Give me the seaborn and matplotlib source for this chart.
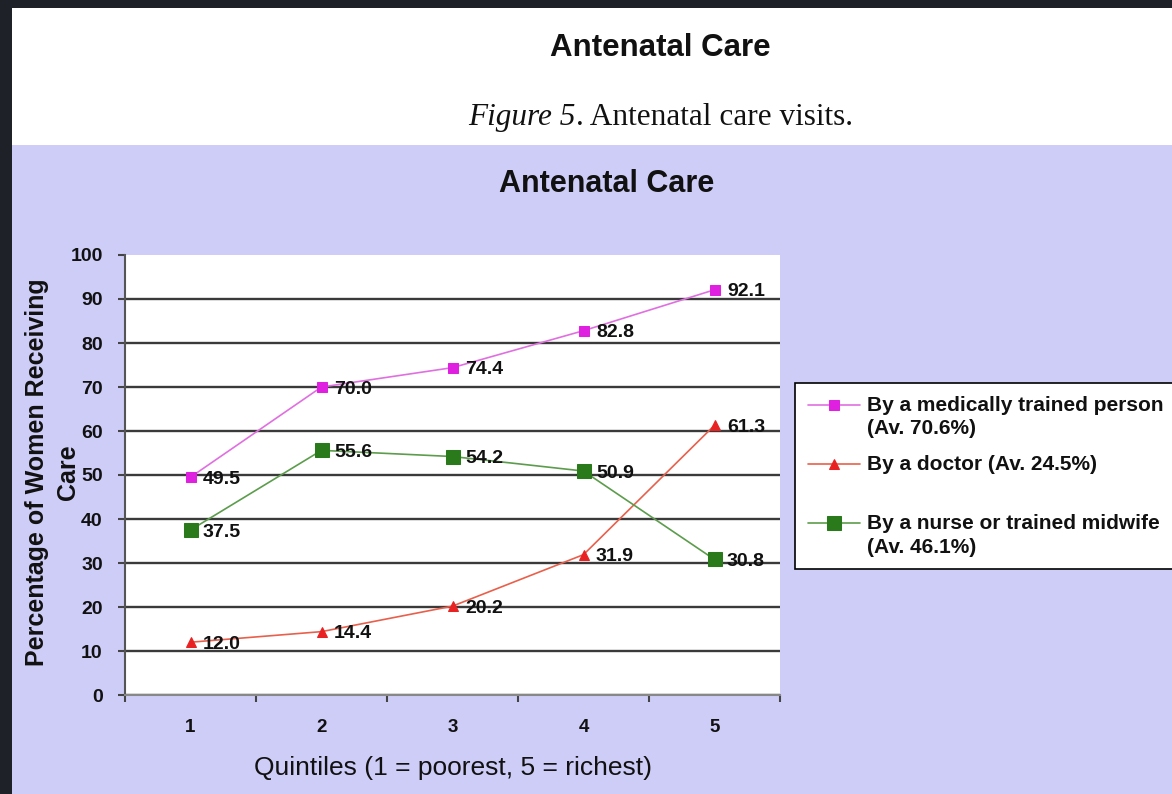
import matplotlib
matplotlib.use("Agg")
import matplotlib.pyplot as plt
import seaborn as sns
import numpy as np
from matplotlib.patches import Rectangle
from matplotlib.legend_handler import HandlerLine2D

# ---------------- data ----------------
quintiles = [1, 2, 3, 4, 5]
quintile_labels = ["1", "2", "3", "4", "5"]
medical = [49.5, 70.0, 74.4, 82.8, 92.1]
doctor = [12.0, 14.4, 20.2, 31.9, 61.3]
nurse = [37.5, 55.6, 54.2, 50.9, 30.8]
series_labels = [
    "By a medically trained person\n(Av. 70.6%)",
    "By a doctor (Av. 24.5%)\n ",
    "By a nurse or trained midwife\n(Av. 46.1%)",
]
y_ticks = list(range(0, 101, 10))

page_title = "Antenatal Care"
caption_italic = "Figure 5"
caption_rest = ". Antenatal care visits."
chart_title = "Antenatal Care"
x_label = "Quintiles (1 = poorest, 5 = richest)"
y_label = "Percentage of Women Receiving\nCare"

# ---------------- style ----------------
sns.set_theme(style="white")
plt.rcParams["font.family"] = ["Liberation Sans", "DejaVu Sans"]

W, H = 1172, 794
fig = plt.figure(figsize=(W / 100, H / 100), dpi=100)
LAV = "#cdcdf8"
fig.patch.set_facecolor(LAV)


def fx(px):
    return px / W


def fy(py):
    return 1 - py / H


# white page header + dark screen borders
fig.add_artist(Rectangle((fx(12), fy(145)), 1, fy(8) - fy(145),
                         transform=fig.transFigure, facecolor="white",
                         edgecolor="none", zorder=0))
fig.add_artist(Rectangle((0, fy(8)), 1, 1 - fy(8), transform=fig.transFigure,
                         facecolor="#1f2129", edgecolor="none", zorder=0))
fig.add_artist(Rectangle((0, 0), fx(12), 1, transform=fig.transFigure,
                         facecolor="#1f2129", edgecolor="none", zorder=0))

ax = fig.add_axes([fx(125), fy(695), fx(780) - fx(125), fy(255) - fy(695)])
ax.set_facecolor("white")

specs = [
    (medical, "#e070e0", "#e020e0", "s", 6.5),
    (doctor, "#e8604c", "#e82222", "^", 7.5),
    (nurse, "#5c9c4c", "#2a7a1c", "s", 10.5),
]
for (vals, lc, mc, m, ms), lab in zip(specs, series_labels):
    sns.lineplot(x=quintiles, y=vals, ax=ax, color=lc, lw=1.2, marker=m,
                 markersize=ms, markerfacecolor=mc, markeredgecolor=mc,
                 label=lab, legend=False, zorder=4)
    for xv, v in zip(quintiles, vals):
        ax.annotate(f"{v:.1f}", (xv, v), xytext=(9, -1.5),
                    textcoords="offset points", ha="left", va="center",
                    fontsize=14, fontweight="bold", color="#111111", zorder=5)

ax.set_xlim(0.5, 5.5)
ax.set_ylim(0, 100)
ax.set_xticks(quintiles)
ax.set_xticklabels(quintile_labels)
ax.set_xticks(np.arange(0.5, 5.6, 1.0), minor=True)
ax.set_yticks(y_ticks)
ax.tick_params(axis="x", which="major", length=0, pad=17, labelsize=13.5,
               labelcolor="#111111")
ax.tick_params(axis="x", which="minor", length=5, width=1.5, color="#444444",
               direction="out", bottom=True)
ax.tick_params(axis="y", length=5, width=1.5, color="#444444", direction="out",
               left=True, pad=11, labelsize=14, labelcolor="#111111")
for t in ax.get_xticklabels() + ax.get_yticklabels():
    t.set_fontweight("bold")

ax.set_axisbelow(True)
ax.yaxis.grid(True, color="#3a3a3a", lw=1.7)
ax.xaxis.grid(False)
ax.yaxis.get_major_ticks()[-1].gridline.set_visible(False)

ax.spines["top"].set_visible(False)
ax.spines["right"].set_visible(False)
ax.spines["left"].set_color("#555555")
ax.spines["left"].set_linewidth(1.5)
ax.spines["bottom"].set_color("#888888")
ax.spines["bottom"].set_linewidth(1.5)

ax.set_ylabel(y_label, fontsize=18, fontweight="bold", color="#111111",
              va="center", linespacing=1.38)
ax.yaxis.set_label_coords((52.5 - 125) / 655, (695 - 472) / 440)
ax.set_xlabel(x_label, fontsize=19, color="#111111", va="center")
ax.xaxis.set_label_coords(0.5, (695 - 768) / 440)

# titles
fig.text(fx(660), fy(56), page_title, ha="center", va="baseline",
         fontsize=22.5, fontweight="bold", color="#111111")
fig.text(fx(607), fy(192), chart_title, ha="center", va="baseline",
         fontsize=22, fontweight="bold", color="#111111")
cap1 = fig.text(0, fy(125), caption_italic, ha="left", va="baseline",
                fontsize=22.5, fontstyle="italic", color="#111111",
                family=["Liberation Serif", "DejaVu Serif"])
cap2 = fig.text(0, fy(125), caption_rest, ha="left", va="baseline",
                fontsize=22.5, color="#111111",
                family=["Liberation Serif", "DejaVu Serif"])


# legend: markers aligned to first line of each label
class FirstLineHandler(HandlerLine2D):
    def __init__(self, shift_pts, **kw):
        super().__init__(**kw)
        self.shift_pts = shift_pts

    def create_artists(self, legend, orig_handle, xdescent, ydescent, width,
                       height, fontsize, trans):
        return super().create_artists(legend, orig_handle, xdescent,
                                      ydescent - 2 * self.shift_pts, width,
                                      height, fontsize, trans)


handles, labels = ax.get_legend_handles_labels()
hmap = {h: FirstLineHandler(9.0) for h in handles}
leg = ax.legend(handles, labels, loc="upper left",
                bbox_to_anchor=(fx(795), fy(383)), bbox_transform=fig.transFigure,
                frameon=True, fancybox=False, framealpha=1, edgecolor="black",
                facecolor="white", borderaxespad=0, borderpad=0.6,
                handlelength=2.5, handletextpad=0.35, labelspacing=0.78,
                numpoints=1, handler_map=hmap,
                prop={"size": 15, "weight": "bold"})
leg.get_frame().set_linewidth(1.2)
for t in leg.get_texts():
    t.set_linespacing(1.33)
    t.set_color("#111111")

fig.canvas.draw()
r = fig.canvas.get_renderer()
w1 = cap1.get_window_extent(r).width
w2 = cap2.get_window_extent(r).width
x0 = 660 - (w1 + w2) / 2
cap1.set_x(fx(x0))
cap2.set_x(fx(x0 + w1 + 1))

fig.savefig("out.png", dpi=100, facecolor=fig.get_facecolor())
